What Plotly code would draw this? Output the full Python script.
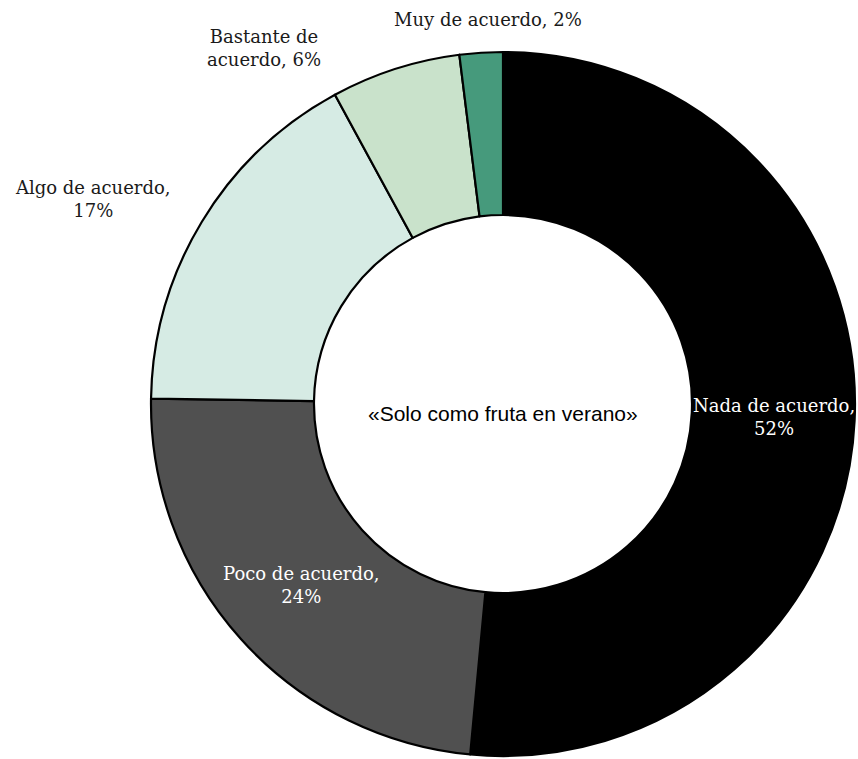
import math
import plotly.graph_objects as go

# Survey answer categories (clockwise from 12 o'clock) and their shares in percent
categories = ["Nada de acuerdo", "Poco de acuerdo", "Algo de acuerdo",
              "Bastante de acuerdo", "Muy de acuerdo"]
shares = [52, 24, 17, 6, 2]
colors = ["#000000", "#505050", "#d6ebe4", "#c9e2cb", "#469a7c"]
center_label = "«Solo como fruta en verano»"

# How each slice label is wrapped
label_breaks = ["{c},<br>{v}%", "{c},<br>{v}%", "{c},<br>{v}%",
                "Bastante de<br>acuerdo, {v}%", "{c}, {v}%"]

# Figure geometry (pixels)
W, H = 858, 759
M_L, M_R, M_T, M_B = 151, 3, 51, 2
HOLE = 0.537
cx = M_L + (W - M_L - M_R) / 2
cy = M_T + (H - M_T - M_B) / 2
R_OUT = (H - M_T - M_B) / 2
R_MID = R_OUT * (1 + HOLE) / 2

# Outside labels sit in the free space around the ring: (angle from 12 o'clock, distance)
outside_place = {2: (296.6, 1.30 * R_OUT), 3: (326.1, 1.215 * R_OUT), 4: (357.8, 1.09 * R_OUT)}


def to_paper(angle_deg, radius):
    a = math.radians(angle_deg)
    px = cx + radius * math.sin(a)
    py = cy - radius * math.cos(a)
    return (px - M_L) / (W - M_L - M_R), (H - M_B - py) / (H - M_T - M_B)


fig = go.Figure(go.Pie(
    labels=categories,
    values=shares,
    textinfo="none",
    marker=dict(colors=colors, line=dict(color="#000000", width=2.2)),
    hole=HOLE,
    sort=False,
    direction="clockwise",
    rotation=0,
    showlegend=False,
    hoverinfo="label+percent",
))

total = sum(shares)
start = 0.0
for i, (cat, v) in enumerate(zip(categories, shares)):
    span = v / total * 360.0
    mid = start + span / 2
    start += span
    text = label_breaks[i].format(c=cat, v=v)
    if i in outside_place:
        ang, rad = outside_place[i]
        color = "#1a1a1a"
    else:
        ang, rad = mid, R_MID
        color = "#ffffff"
    x, y = to_paper(ang, rad)
    fig.add_annotation(
        x=x, y=y, xref="paper", yref="paper",
        text=text, showarrow=False, align="center",
        xanchor="center", yanchor="middle",
        font=dict(family="DejaVu Serif", size=18, color=color),
    )

fig.add_annotation(
    x=0.5, y=0.5, xref="paper", yref="paper",
    text=center_label, showarrow=False,
    font=dict(family="Liberation Sans", size=21, color="#000000"),
    yshift=-9,
)

fig.update_layout(
    width=W, height=H,
    margin=dict(l=M_L, r=M_R, t=M_T, b=M_B),
    paper_bgcolor="#ffffff",
    plot_bgcolor="#ffffff",
)

fig.write_html("out.html")
